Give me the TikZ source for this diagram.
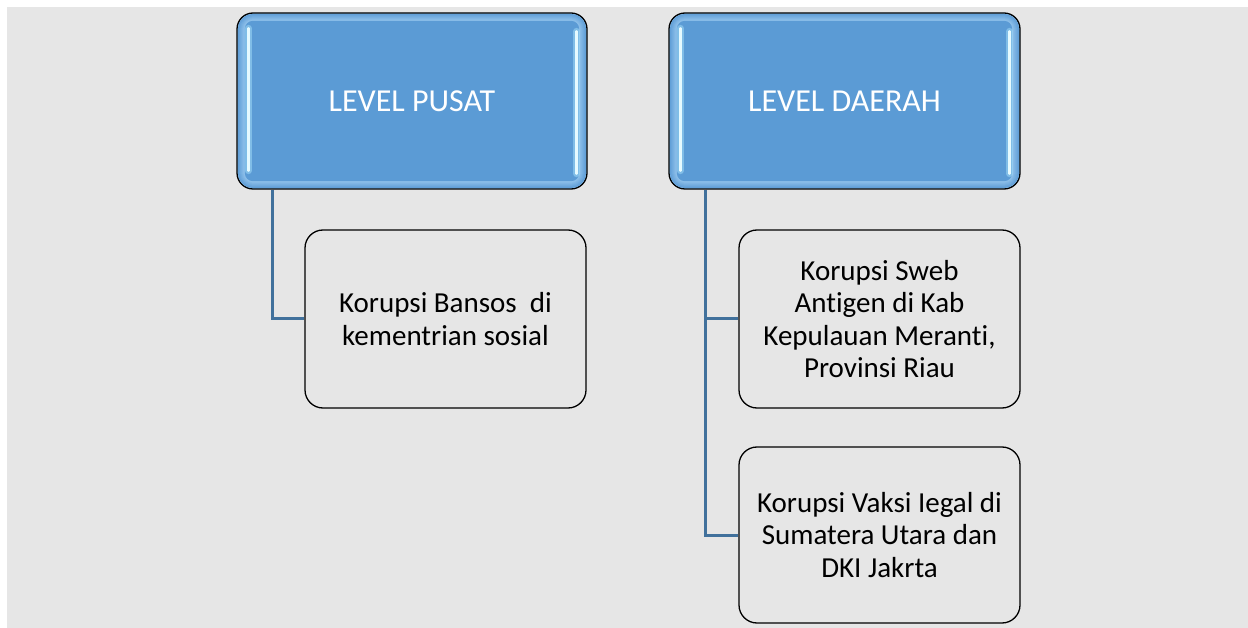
\documentclass[tikz,border=0pt]{standalone}
\usepackage{fontspec}
\setmainfont[Ligatures=NoCommon]{Carlito}
\usetikzlibrary{calc,backgrounds}

\definecolor{pagebg}{HTML}{E6E6E6}
\definecolor{boxgray}{HTML}{E6E6E6}
\definecolor{headblue}{HTML}{5B9BD5}
\definecolor{headedge}{HTML}{8EC0EA}
\definecolor{shine}{HTML}{E6FAFF}
\definecolor{shineglow}{HTML}{9FD9F6}
\definecolor{linkblue}{HTML}{41719C}

\tikzset{
  headbox/.style={rectangle, rounded corners=16pt, draw=black, line width=1.3pt,
    fill=headedge, minimum width=350pt, minimum height=176pt, inner sep=0pt},
  headtext/.style={text=white, font=\fontsize{32}{38}\selectfont, inner sep=0pt},
  itembox/.style={rectangle, rounded corners=18pt, draw=black, line width=1.3pt,
    fill=boxgray, minimum width=281pt, minimum height=177pt, inner sep=0pt,
    align=center, text=black, font=\fontsize{29}{32.5}\selectfont},
  link/.style={draw=linkblue, line width=3pt},
  shinecore/.style={draw=shine, line width=2.6pt, line cap=round},
  shinehalo/.style={draw=shineglow, line width=7pt, line cap=round, opacity=0.55},
}

% soft inner glow and the two vertical highlights of a header box
\newcommand{\headgloss}[1]{%
  \foreach \i in {1,...,7}{%
    \pgfmathsetmacro{\mixv}{100-\i*100/7}%
    \fill[headblue!\mixv!headedge, rounded corners={max(16-\i,2)*1pt}]
      ($(#1.north west)+(\i+0.7,-\i-0.7)$) rectangle ($(#1.south east)+(-\i-0.7,\i+0.7)$);
  }
  \fill[headblue, rounded corners=8pt]
    ($(#1.north west)+(8.5,-8.5)$) rectangle ($(#1.south east)+(-8.5,8.5)$);
  \path[shinehalo] ($(#1.north west)+(12,-16)$) -- ($(#1.south west)+(12,19)$);
  \path[shinecore] ($(#1.north west)+(12,-16)$) -- ($(#1.south west)+(12,19)$);
  \path[shinehalo] ($(#1.north east)+(-11,-19)$) -- ($(#1.south east)+(-11,16)$);
  \path[shinecore] ($(#1.north east)+(-11,-19)$) -- ($(#1.south east)+(-11,16)$);
}

\begin{document}
\begin{tikzpicture}[x=1pt,y=1pt]
  \useasboundingbox (0,0) rectangle (1248,-628);

  % header boxes
  \node[headbox] (pusat) at (412,-101) {};
  \headgloss{pusat}
  \node[headtext] (pusatlbl) at (pusat.center) {LEVEL PUSAT};

  \node[headbox, minimum width=351pt] (daerah) at (844.5,-101) {};
  \headgloss{daerah}
  \node[headtext] (daerahlbl) at (daerah.center) {LEVEL DAERAH};

  % case boxes
  \node[itembox, minimum height=178pt] (bansos) at (445.5,-319)
    {Korupsi Bansos\ \ di\\kementrian sosial};
  \node[itembox, minimum height=178pt] (antigen) at (879.5,-319)
    {Korupsi Sweb\\Antigen di Kab\\Kepulauan Meranti,\\Provinsi Riau};
  \node[itembox, minimum height=176pt] (vaksin) at (879.5,-535)
    {Korupsi Vaksi Iegal di\\Sumatera Utara dan\\DKI Jakrta};

  \begin{scope}[on background layer]
    \fill[white] (0,0) rectangle (1248,-628);
    \fill[pagebg] (7,-7) rectangle (1248,-628);
    % tree connectors
    \coordinate (pusatfoot) at ($(pusat.south west)+(36,0)$);
    \coordinate (daerahfoot) at ($(daerah.south west)+(37,0)$);
    \draw[link] (pusatfoot) |- (bansos.west);
    \draw[link] (daerahfoot) |- (antigen.west);
    \draw[link] (daerahfoot) |- (vaksin.west);
  \end{scope}
\end{tikzpicture}
\end{document}
